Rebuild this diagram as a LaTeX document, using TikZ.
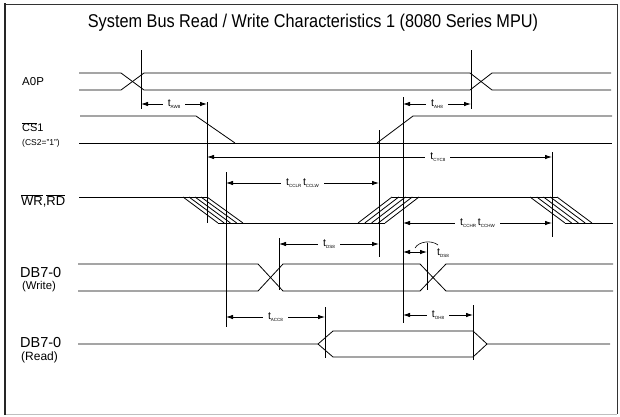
\documentclass[tikz,border=0pt]{standalone}
\usepackage{fontspec}
\setmainfont{Liberation Sans}
\usetikzlibrary{arrows.meta}
\newcommand\tsb[1]{t\raisebox{-1.3pt}{\fontsize{4.5}{5}\selectfont #1}}
\newcommand\ovl[1]{$\overline{\mbox{#1}}$}
\begin{document}
\begin{tikzpicture}[x=1pt,y=-1pt,
  sig/.style={line width=0.8pt},
  vl/.style={line width=0.8pt},
  dim/.style={line width=0.8pt,{Latex[length=7pt,width=4.5pt]}-{Latex[length=7pt,width=4.5pt]}},
  tl/.style={fill=white,inner xsep=5pt,inner ysep=1pt,font=\fontsize{10.5}{10.5}\selectfont},
  lbl/.style={anchor=west,inner sep=0pt}]
\useasboundingbox (0,0) rectangle (620,416);
% frame
\draw[line width=0.8pt,black!80] (5,4) -- (617,4) -- (617,414);
\draw[line width=0.8pt,black!25] (5,414) -- (617,414);
\draw[line width=2pt,black!85] (5,3) -- (5,415);
% title
\node (title) at (313,23) {\scalebox{0.88}[1]{\fontsize{18.5}{18.5}\selectfont System Bus Read / Write Characteristics 1 (8080 Series MPU)}};
% labels
\node[lbl,font=\fontsize{11.5}{12}\selectfont] (la0p) at (22,82) {A0P};
\node[lbl,font=\fontsize{11}{11}\selectfont] (lcs1) at (22,127) {\ovl{CS}1};
\node[lbl,font=\fontsize{8.5}{9}\selectfont] (lcs2) at (22,143) {(CS2="1")};
\node[lbl,font=\fontsize{13}{13}\selectfont] (lwr) at (21,201) {\ovl{WR},\ovl{RD}};
\node[lbl,font=\fontsize{14.5}{15}\selectfont] (ldbw) at (20,272) {DB7-0};
\node[lbl,font=\fontsize{11.3}{12}\selectfont] (lw) at (22,287) {(Write)};
\node[lbl,font=\fontsize{14.5}{15}\selectfont] (ldbr) at (20,342) {DB7-0};
\node[lbl,font=\fontsize{12}{12}\selectfont] (lr) at (21,357) {(Read)};
% A0P
\draw[sig] (79,73) -- (121,73) -- (144,90) -- (470,90) -- (492,73) -- (611,73);
\draw[sig] (79,90) -- (121,90) -- (144,73) -- (470,73) -- (492,90) -- (611,90);
% CS1
\draw[sig] (80,116) -- (196,116) -- (235,143);
\draw[sig] (79,143) -- (612,143);
\draw[sig] (377,143) -- (413,116) -- (612,116);
% WR,RD
\draw[sig] (79,197) -- (207,197);
\foreach \i in {0,...,4} \draw[sig] (183+6*\i,197) -- (218+6.25*\i,223);
\draw[sig] (218,223) -- (385,223);
\foreach \i in {0,...,4} \draw[sig] (358+6.75*\i,223) -- (392+6.75*\i,197);
\draw[sig] (392,197) -- (557,197);
\foreach \i in {0,...,4} \draw[sig] (530+6.75*\i,197) -- (565+6.75*\i,223);
\draw[sig] (565,223) -- (613,223);
% DB write
\draw[sig] (78,264) -- (258,264) -- (283,291) -- (420,291) -- (446,264) -- (613,264);
\draw[sig] (78,291) -- (258,291) -- (283,264) -- (420,264) -- (446,291) -- (613,291);
% DB read
\draw[sig] (78,344) -- (318,344) -- (333,331) -- (473,331) -- (487,344) -- (610,344);
\draw[sig] (318,344) -- (333,357) -- (473,357) -- (487,344);
% verticals
\draw[vl] (141,50) -- (141,109);
\draw[vl] (471,50) -- (471,109);
\draw[vl] (207,102) -- (207,223);
\draw[vl] (403,97) -- (403,323);
\draw[vl] (226,172) -- (226,327);
\draw[vl] (379,130) -- (379,257);
\draw[vl] (552,152) -- (552,237);
\draw[vl] (279,238) -- (279,290);
\draw[vl] (427,243) -- (427,290);
\draw[vl] (325,307) -- (325,358);
\draw[vl] (473,305) -- (473,360);
% dimensions
\draw[dim] (141,104) -- node[tl] {\tsb{AW8}} (207,104);
\draw[dim] (403,104) -- node[tl] {\tsb{AH8}} (471,104);
\draw[dim] (207,157) -- node[tl,pos=0.669] {\tsb{CYC8}} (552,157);
\draw[dim] (226,183) -- node[tl] {\tsb{CCLR}\,\tsb{CCLW}} (379,183);
\draw[dim] (403,223) -- node[tl] {\tsb{CCHR}\,\tsb{CCHW}} (552,223);
\draw[dim] (279,244) -- node[tl] {\tsb{DS8}} (379,244);
\draw[dim] (403,252) -- (427,252);
\draw[line width=0.6pt] (415,248) .. controls (419,241) and (432,240) .. (438,245);
\node[anchor=west,inner sep=0pt,font=\fontsize{10.5}{10.5}\selectfont] (tdh) at (437,253) {\tsb{DS8}};
\draw[dim] (226,317) -- node[tl] {\tsb{ACC8}} (325,317);
\draw[dim] (403,315) -- node[tl] {\tsb{OH8}} (473,315);
\end{tikzpicture}
\end{document}
